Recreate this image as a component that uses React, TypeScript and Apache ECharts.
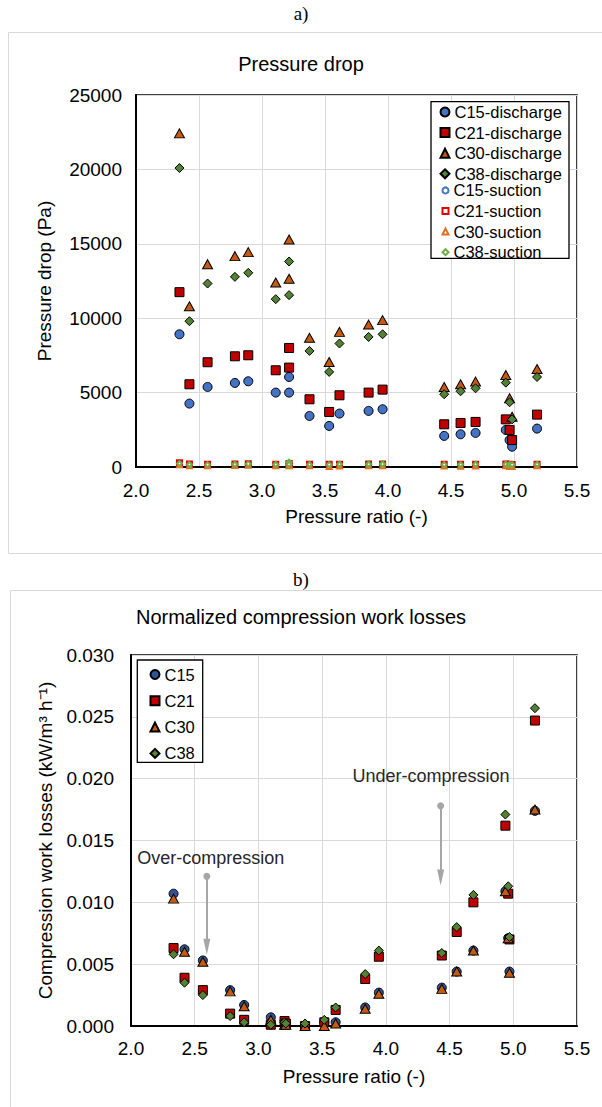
import React, { useEffect, useRef } from 'react';
import * as echarts from 'echarts';

// ---------- Panel a) Pressure drop ----------
const PR_A = [2.345, 2.424, 2.568, 2.785, 2.891, 3.109, 3.215, 3.215, 3.377, 3.533, 3.615, 3.846, 3.957, 4.446, 4.576, 4.695, 4.935, 4.965, 4.985, 5.183];
const C15_DIS = [8920, 4260, 5380, 5650, 5760, 5000, 6050, 5000, 3430, 2760, 3590, 3770, 3880, 2090, 2200, 2290, 2490, 1810, 1365, 2580];
const C21_DIS = [11750, 5560, 7040, 7440, 7510, 6500, 8000, 6680, 4550, 3700, 4820, 5000, 5200, 2870, 2960, 3030, 3200, 2490, 1810, 3520];
const C30_DIS = [22420, 10800, 13630, 14170, 14440, 12400, 15290, 12650, 8680, 7060, 9080, 9570, 9870, 5380, 5560, 5740, 6180, 4620, 3380, 6590];
const C38_DIS = [20090, 9800, 12330, 12780, 13050, 11280, 13810, 11550, 7800, 6390, 8300, 8740, 8920, 4890, 5090, 5290, 5670, 4350, 3200, 6050];
const C15_SUC = [250, 180, 170, 190, 200, 160, 220, 180, 170, 160, 170, 180, 190, 150, 160, 170, 180, 150, 140, 170];
const C21_SUC = [280, 200, 190, 210, 220, 190, 240, 200, 190, 180, 190, 200, 210, 180, 190, 190, 200, 180, 170, 190];
const C30_SUC = [150, 90, 80, 100, 110, 80, 130, 90, 80, 40, 70, 80, 90, 60, 50, 70, 80, 40, 30, 80];
const C38_SUC = [230, 170, 160, 190, 210, 170, 330, 180, 170, 160, 180, 190, 200, 160, 170, 180, 190, 160, 150, 180];
const NAMES_A_DIS = ['C15-discharge', 'C21-discharge', 'C30-discharge', 'C38-discharge'];
const NAMES_A_SUC = ['C15-suction', 'C21-suction', 'C30-suction', 'C38-suction'];

// ---------- Panel b) Normalized compression work losses ----------
const PR_B = [2.334, 2.42, 2.564, 2.778, 2.888, 3.097, 3.205, 3.215, 3.366, 3.517, 3.606, 3.838, 3.945, 4.439, 4.556, 4.687, 4.938, 4.96, 4.97, 5.17];
const C15_W = [0.0107, 0.0062, 0.0053, 0.0029, 0.0017, 0.0007, 0.0004, 0.0003, 0.0000, 0.0003, 0.0003, 0.0015, 0.0027, 0.0031, 0.0044, 0.0061, 0.0109, 0.0071, 0.0044, 0.0174];
const C21_W = [0.0063, 0.0039, 0.0029, 0.0010, 0.0005, 0.0001, 0.0004, 0.0002, 0.0000, 0.0003, 0.0013, 0.0038, 0.0056, 0.0057, 0.0076, 0.0100, 0.0162, 0.0107, 0.0070, 0.0247];
const C30_W = [0.0103, 0.0060, 0.0052, 0.0028, 0.0016, 0.0005, 0.0001, 0.0001, 0.0000, 0.0000, 0.0002, 0.0014, 0.0026, 0.0030, 0.0044, 0.0061, 0.0109, 0.0071, 0.0043, 0.0175];
const C38_W = [0.0058, 0.0035, 0.0025, 0.0008, 0.0003, 0.0001, 0.0003, 0.0002, 0.0002, 0.0005, 0.0015, 0.0042, 0.0061, 0.0059, 0.0080, 0.0106, 0.0171, 0.0113, 0.0072, 0.0257];
const NAMES_B = ['C15', 'C21', 'C30', 'C38'];

// annotations (data coordinates of arrows)
const OVER_ARROW = { x: 2.595, y0: 0.0121, y1: 0.0064 };
const UNDER_ARROW = { x: 4.43, y0: 0.0178, y1: 0.0120 };

const X_TICKS = [2.0, 2.5, 3.0, 3.5, 4.0, 4.5, 5.0, 5.5];

const FONT = '"Liberation Sans", Arial, sans-serif';
const SERIF = '"Liberation Serif", "Times New Roman", serif';

const zip = (xs: number[], ys: number[]) => xs.map((x, i) => [x, ys[i]]);

export default function App() {
  const ref = useRef<HTMLDivElement>(null);
  useEffect(() => {
    if (!ref.current) return;
    const chart = echarts.init(ref.current, undefined, { renderer: 'svg' });

    const xAxisBase = (gridIndex: number, margin: number, nameGap: number) => ({
      gridIndex,
      type: 'value',
      min: X_TICKS[0],
      max: X_TICKS[X_TICKS.length - 1],
      interval: 0.5,
      axisLine: { show: true, onZero: false, lineStyle: { color: '#000', width: 2 } },
      axisTick: { show: false },
      splitLine: { show: true, lineStyle: { color: '#d9d9d9', width: 1 } },
      axisLabel: { formatter: (v: number) => v.toFixed(1), fontSize: 19, color: '#000', margin, fontFamily: FONT },
      name: 'Pressure ratio (-)',
      nameLocation: 'middle',
      nameGap,
      nameTextStyle: { fontSize: 19, color: '#000', fontFamily: FONT },
    });

    const disStyle = [
      { symbol: 'circle', size: 9, color: '#4472C4' },
      { symbol: 'rect', size: 9, color: '#C00000' },
      { symbol: 'triangle', size: [10, 9], color: '#C55A11' },
      { symbol: 'diamond', size: 9, color: '#548235' },
    ];
    const sucStyle = [
      { symbol: 'emptyCircle', color: '#4472C4' },
      { symbol: 'emptyRect', color: '#E00000' },
      { symbol: 'emptyTriangle', color: '#E07020' },
      { symbol: 'emptyDiamond', color: '#70AD47' },
    ];
    const bStyle = [
      { symbol: 'circle', size: 9, color: '#2F5597' },
      { symbol: 'rect', size: 9, color: '#C00000' },
      { symbol: 'triangle', size: [10, 9], color: '#C55A11' },
      { symbol: 'diamond', size: 9, color: '#548235' },
    ];

    const disData = [C15_DIS, C21_DIS, C30_DIS, C38_DIS];
    const sucData = [C15_SUC, C21_SUC, C30_SUC, C38_SUC];
    const bData = [C15_W, C21_W, C30_W, C38_W];

    const series: any[] = [];
    sucData.forEach((d, i) => {
      series.push({
        name: NAMES_A_SUC[i],
        type: 'scatter',
        xAxisIndex: 0,
        yAxisIndex: 0,
        symbol: sucStyle[i].symbol,
        symbolSize: 5,
        itemStyle: { color: sucStyle[i].color, borderColor: sucStyle[i].color, borderWidth: 1.3, opacity: 1 },
        emphasis: { disabled: true },
        data: zip(PR_A, d),
        z: 2,
      });
    });
    disData.forEach((d, i) => {
      series.push({
        name: NAMES_A_DIS[i],
        type: 'scatter',
        xAxisIndex: 0,
        yAxisIndex: 0,
        symbol: disStyle[i].symbol,
        symbolSize: disStyle[i].size,
        itemStyle: { color: disStyle[i].color, borderColor: '#000', borderWidth: 1, opacity: 1 },
        emphasis: { disabled: true },
        data: zip(PR_A, d),
        z: 3,
      });
    });
    bData.forEach((d, i) => {
      series.push({
        name: NAMES_B[i],
        type: 'scatter',
        xAxisIndex: 1,
        yAxisIndex: 1,
        symbol: bStyle[i].symbol,
        symbolSize: bStyle[i].size,
        itemStyle: { color: bStyle[i].color, borderColor: '#000', borderWidth: 1, opacity: 1 },
        emphasis: { disabled: true },
        data: zip(PR_B, d),
        z: 3,
      });
    });
    series.push({
      name: 'arrows',
      type: 'scatter',
      xAxisIndex: 1,
      yAxisIndex: 1,
      data: [],
      markLine: {
        silent: true,
        animation: false,
        lineStyle: { color: '#a6a6a6', width: 2, type: 'solid' },
        label: { show: false },
        data: [
          [
            { coord: [OVER_ARROW.x, OVER_ARROW.y0], symbol: 'circle', symbolSize: 7 },
            { coord: [OVER_ARROW.x, OVER_ARROW.y1], symbol: 'triangle', symbolSize: [7, 16] },
          ],
          [
            { coord: [UNDER_ARROW.x, UNDER_ARROW.y0], symbol: 'circle', symbolSize: 7 },
            { coord: [UNDER_ARROW.x, UNDER_ARROW.y1], symbol: 'triangle', symbolSize: [7, 16] },
          ],
        ],
      },
    });

    const legendText = { fontSize: 16.5, lineHeight: 16, color: '#000', fontFamily: FONT };

    chart.setOption({
      animation: false,
      backgroundColor: '#fff',
      textStyle: { fontFamily: FONT },
      title: [
        { text: 'Pressure drop', left: 'center', top: 54, padding: 0, textStyle: { fontSize: 20, fontWeight: 'normal', color: '#000', fontFamily: FONT } },
        { text: 'Normalized compression work losses', left: 'center', top: 607, padding: 0, textStyle: { fontSize: 20, fontWeight: 'normal', color: '#000', fontFamily: FONT } },
      ],
      grid: [
        { left: 136, top: 95, width: 441, height: 372, show: true, borderColor: '#000', borderWidth: 1.5, backgroundColor: 'transparent' },
        { left: 131, top: 655, width: 446, height: 371, show: true, borderColor: '#000', borderWidth: 1.5, backgroundColor: 'transparent' },
      ],
      xAxis: [xAxisBase(0, 14, 40), xAxisBase(1, 13, 41)],
      yAxis: [
        {
          gridIndex: 0,
          type: 'value',
          min: 0,
          max: 25000,
          interval: 5000,
          axisLine: { show: true, lineStyle: { color: '#000', width: 2 } },
          axisTick: { show: false },
          splitLine: { show: true, lineStyle: { color: '#d9d9d9', width: 1 } },
          axisLabel: { formatter: (v: number) => String(v), fontSize: 19, color: '#000', margin: 14, fontFamily: FONT },
          name: 'Pressure drop (Pa)',
          nameLocation: 'middle',
          nameRotate: 90,
          nameGap: 82,
          nameTextStyle: { fontSize: 19, color: '#000', fontFamily: FONT },
        },
        {
          gridIndex: 1,
          type: 'value',
          min: 0,
          max: 0.03,
          interval: 0.005,
          axisLine: { show: true, lineStyle: { color: '#000', width: 2 } },
          axisTick: { show: false },
          splitLine: { show: true, lineStyle: { color: '#d9d9d9', width: 1 } },
          axisLabel: { formatter: (v: number) => v.toFixed(3), fontSize: 19, color: '#000', margin: 17, fontFamily: FONT },
          name: 'Compression work losses (kW/m³ h⁻¹)',
          nameLocation: 'middle',
          nameRotate: 90,
          nameGap: 76,
          nameTextStyle: { fontSize: 19, color: '#000', fontFamily: FONT },
        },
      ],
      legend: [
        {
          data: NAMES_A_DIS,
          orient: 'vertical',
          left: 439.5,
          top: 103.5,
          padding: 0,
          itemWidth: 9,
          itemHeight: 9,
          itemGap: 3.6,
          textStyle: legendText,
          selectedMode: false,
          z: 5,
        },
        {
          data: NAMES_A_SUC,
          orient: 'vertical',
          left: 441.5,
          top: 103.5 + 4 * 19.6,
          padding: 0,
          itemWidth: 6,
          itemHeight: 6,
          itemGap: 3.6,
          textStyle: legendText,
          selectedMode: false,
          z: 5,
        },
        {
          data: NAMES_B,
          orient: 'vertical',
          left: 149.5,
          top: 666,
          padding: 0,
          itemWidth: 9,
          itemHeight: 9,
          itemGap: 9.3,
          textStyle: legendText,
          selectedMode: false,
          z: 5,
        },
      ],
      graphic: [
        { type: 'rect', z: 0, silent: true, shape: { x: 8.5, y: 32.5, width: 600, height: 521 }, style: { fill: 'none', stroke: '#d9d9d9', lineWidth: 1 } },
        { type: 'rect', z: 0, silent: true, shape: { x: 10.5, y: 590.5, width: 600, height: 530 }, style: { fill: 'none', stroke: '#d9d9d9', lineWidth: 1 } },
        { type: 'rect', z: 4, silent: true, shape: { x: 431, y: 101.7, width: 138, height: 156.6 }, style: { fill: '#fff', stroke: '#000', lineWidth: 1.3 } },
        { type: 'rect', z: 4, silent: true, shape: { x: 137.3, y: 660, width: 65.4, height: 102.3 }, style: { fill: '#fff', stroke: '#000', lineWidth: 1.3 } },
        { type: 'text', z: 5, silent: true, x: 301, y: 13, style: { text: 'a)', fontSize: 19, fontFamily: SERIF, fill: '#000', align: 'center', verticalAlign: 'middle' } },
        { type: 'text', z: 5, silent: true, x: 301, y: 579, style: { text: 'b)', fontSize: 19, fontFamily: SERIF, fill: '#000', align: 'center', verticalAlign: 'middle' } },
        { type: 'text', z: 5, silent: true, x: 137.3, y: 858, style: { text: 'Over-compression', fontSize: 18, fontFamily: FONT, fill: '#262626', align: 'left', verticalAlign: 'middle' } },
        { type: 'text', z: 5, silent: true, x: 431, y: 776, style: { text: 'Under-compression', fontSize: 18, fontFamily: FONT, fill: '#262626', align: 'center', verticalAlign: 'middle' } },
      ],
      series,
    });

    return () => chart.dispose();
  }, []);

  return <div ref={ref} style={{ position: 'absolute', left: 0, top: 0, width: 602, height: 1107 }} />;
}
